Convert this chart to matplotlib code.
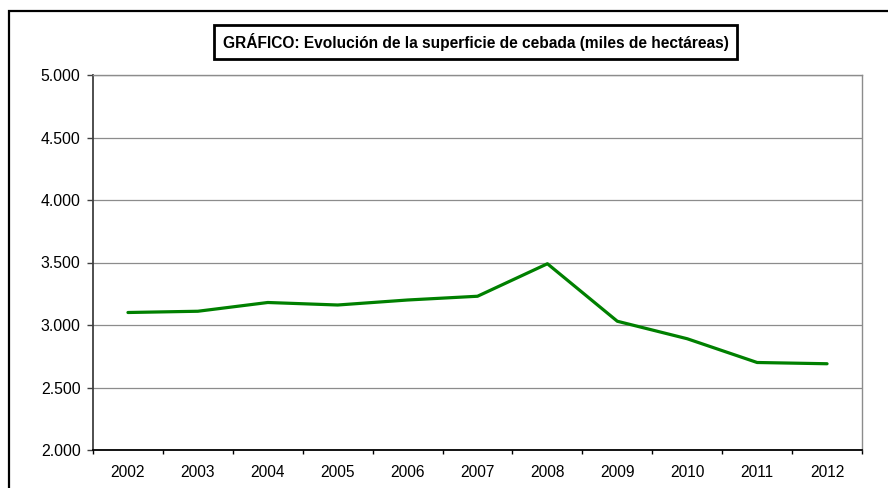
import matplotlib.pyplot as plt
from matplotlib.patches import Rectangle

plt.rcParams['font.family'] = ['Liberation Sans', 'DejaVu Sans']

years = ['2002', '2003', '2004', '2005', '2006', '2007', '2008', '2009', '2010', '2011', '2012']
superficie = [3100, 3110, 3180, 3160, 3200, 3230, 3490, 3030, 2890, 2700, 2690]
yticks = [2000, 2500, 3000, 3500, 4000, 4500, 5000]
ylabels = ['2.000', '2.500', '3.000', '3.500', '4.000', '4.500', '5.000']
title = 'GRÁFICO: Evolución de la superficie de cebada (miles de hectáreas)'

fig = plt.figure(figsize=(8.88, 4.88), dpi=100)
W, H = 888, 488
ax = fig.add_axes([93 / W, 1 - 450 / H, (862 - 93) / W, (450 - 75) / H])

x = list(range(len(years)))
ax.plot(x, superficie, color='#008000', linewidth=2.3, solid_capstyle='round', zorder=3)

ax.set_xlim(-0.5, len(years) - 0.5)
ax.set_ylim(2000, 5000)
ax.set_yticks(yticks)
ax.set_yticklabels(ylabels)
ax.grid(axis='y', color='#8c8c8c', linewidth=0.9)
ax.set_axisbelow(True)

# category ticks between years, labels centred
ax.set_xticks([i - 0.5 for i in range(len(years) + 1)])
ax.set_xticklabels([])
ax.set_xticks(x, minor=True)
ax.set_xticklabels(years, minor=True)
ax.tick_params(axis='x', which='major', length=3, width=1, direction='out', color='black')
ax.tick_params(axis='x', which='minor', length=0, pad=11, labelsize=11.2)
ax.tick_params(axis='y', length=4, width=1, color='#404040', pad=5, labelsize=11.4)

for s in ['top', 'right']:
    ax.spines[s].set_color('#8c8c8c')
    ax.spines[s].set_linewidth(1)
ax.spines['left'].set_color('#404040')
ax.spines['left'].set_linewidth(1.3)
ax.spines['bottom'].set_color('black')
ax.spines['bottom'].set_linewidth(1.3)

# outer chart border (cropped on right and bottom)
fig.add_artist(Rectangle((9 / W, -0.1), 1.2, 1 - 11 / H + 0.1, transform=fig.transFigure,
                         fill=False, edgecolor='black', linewidth=1.6))

# title box
fig.add_artist(Rectangle((214 / W, 1 - 59 / H), (737 - 214) / W, 34 / H, transform=fig.transFigure,
                         facecolor='white', edgecolor='black', linewidth=2))
fig.text((214 + 737) / 2 / W, 1 - 42 / H, title, ha='center', va='center',
         fontsize=11.2, fontweight='bold')

fig.savefig('out.png', dpi=100)
